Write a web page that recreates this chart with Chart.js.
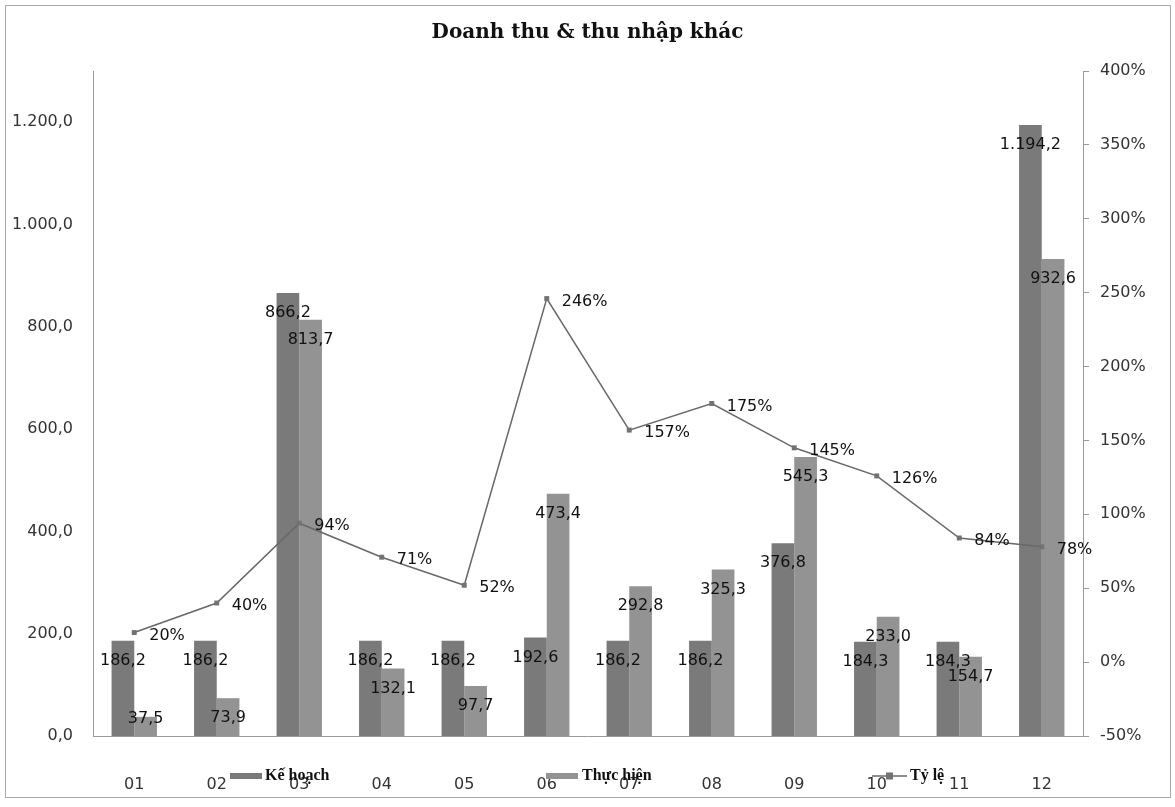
<!DOCTYPE html>
<html>
<head>
<meta charset="utf-8">
<script src="https://cdn.jsdelivr.net/npm/chart.js@4.4.1/dist/chart.umd.min.js"></script>
<style>
html,body{margin:0;padding:0;background:#fff;}
#wrap{width:1175px;height:807px;}
</style>
</head>
<body>
<div id="wrap"><canvas id="c" width="1175" height="807"></canvas></div>
<script>
// ---- data ----
const categories = ['01','02','03','04','05','06','07','08','09','10','11','12'];
const keHoach   = [186.2, 186.2, 866.2, 186.2, 186.2, 192.6, 186.2, 186.2, 376.8, 184.3, 184.3, 1194.2];
const thucHien  = [37.5, 73.9, 813.7, 132.1, 97.7, 473.4, 292.8, 325.3, 545.3, 233.0, 154.7, 932.6];
const tyLe      = [20, 40, 94, 71, 52, 246, 157, 175, 145, 126, 84, 78];
const leftTicks  = [0, 200, 400, 600, 800, 1000, 1200];
const rightTicks = [-50, 0, 50, 100, 150, 200, 250, 300, 350, 400];
const seriesNames = ['Kế hoạch', 'Thực hiện', 'Tỷ lệ'];
const chartTitle = 'Doanh thu & thu nhập khác';

function fmtVN(v, d) {
  const s = Math.abs(v).toFixed(d).split('.');
  const intPart = s[0].replace(/\B(?=(\d{3})+(?!\d))/g, '.');
  return (v < 0 ? '-' : '') + intPart + (d > 0 ? ',' + s[1] : '');
}

const C_KH = '#7a7a7a';
const C_TH = '#939393';
const C_LINE = '#686868';
const AXIS = '#9a9a9a';
const tickFont = { family: 'DejaVu Sans', size: 16 };

const bgPlugin = {
  id: 'bg',
  beforeDraw(chart) {
    const ctx = chart.ctx;
    ctx.save();
    ctx.fillStyle = '#fff';
    ctx.fillRect(0, 0, chart.width, chart.height);
    ctx.strokeStyle = '#a8a8a8';
    ctx.lineWidth = 1;
    ctx.strokeRect(5.5, 5.5, 1165, 792);
    ctx.restore();
  }
};

const labelPlugin = {
  id: 'vlabels',
  afterDatasetsDraw(chart) {
    const ctx = chart.ctx;
    ctx.save();
    ctx.font = '16px "DejaVu Sans"';
    ctx.fillStyle = '#111';
    ctx.textAlign = 'center';
    ctx.textBaseline = 'middle';
    [0, 1].forEach(di => {
      const meta = chart.getDatasetMeta(di);
      const vals = chart.data.datasets[di].data;
      meta.data.forEach((el, i) => {
        const y = Math.min(el.y + 20, el.base - 17);
        ctx.fillText(fmtVN(vals[i], 1), el.x, y);
      });
    });
    const lm = chart.getDatasetMeta(2);
    const lv = chart.data.datasets[2].data;
    ctx.textAlign = 'left';
    lm.data.forEach((el, i) => {
      ctx.fillText(lv[i] + '%', el.x + 15, el.y + 3);
    });
    ctx.restore();
  }
};

const legendPlugin = {
  id: 'customLegend',
  afterDraw(chart) {
    const ctx = chart.ctx;
    const ds = chart.data.datasets;
    const y = 776;
    ctx.save();
    ctx.font = 'bold 16px "Liberation Serif"';
    ctx.fillStyle = '#111';
    ctx.textBaseline = 'middle';
    ctx.textAlign = 'left';
    // Kế hoạch
    ctx.fillStyle = ds[0].backgroundColor;
    ctx.fillRect(230, y - 3, 32, 6);
    ctx.fillStyle = '#111';
    ctx.fillText(ds[0].label, 265, y);
    // Thực hiện
    ctx.fillStyle = ds[1].backgroundColor;
    ctx.fillRect(546, y - 3, 32, 6);
    ctx.fillStyle = '#111';
    ctx.fillText(ds[1].label, 582, y);
    // Tỷ lệ
    ctx.strokeStyle = ds[2].borderColor;
    ctx.lineWidth = 1.5;
    ctx.beginPath();
    ctx.moveTo(872, y); ctx.lineTo(907, y);
    ctx.stroke();
    ctx.fillStyle = ds[2].pointBackgroundColor;
    ctx.fillRect(886, y - 3.5, 7, 7);
    ctx.fillStyle = '#111';
    ctx.fillText(ds[2].label, 910, y);
    ctx.restore();
  }
};

new Chart(document.getElementById('c'), {
  data: {
    labels: categories,
    datasets: [
      { type: 'bar', label: seriesNames[0], data: keHoach, backgroundColor: C_KH, borderWidth: 0,
        yAxisID: 'y', order: 2, categoryPercentage: 0.55, barPercentage: 1.0 },
      { type: 'bar', label: seriesNames[1], data: thucHien, backgroundColor: C_TH, borderWidth: 0,
        yAxisID: 'y', order: 2, categoryPercentage: 0.55, barPercentage: 1.0 },
      { type: 'line', label: seriesNames[2], data: tyLe, yAxisID: 'y1', order: 1,
        borderColor: C_LINE, borderWidth: 1.5, tension: 0, fill: false,
        pointStyle: 'rect', pointRadius: 3.5, pointBackgroundColor: '#727272', pointBorderWidth: 0 }
    ]
  },
  options: {
    responsive: false,
    devicePixelRatio: 1,
    animation: false,
    layout: { padding: 0 },
    plugins: {
      legend: { display: false },
      tooltip: { enabled: false },
      title: {
        display: true, text: chartTitle, color: '#111',
        font: { family: 'DejaVu Serif', size: 20, weight: 'bold' },
        padding: { top: 21, bottom: 26 }
      }
    },
    scales: {
      x: {
        grid: { display: false },
        border: { display: true, color: AXIS, width: 1 },
        ticks: { font: tickFont, color: '#333', padding: 31, maxRotation: 0 },
        afterFit(s) { s.height = 71; }
      },
      y: {
        position: 'left', min: 0, max: 1300,
        grid: { display: false },
        border: { display: true, color: AXIS, width: 1 },
        ticks: { font: tickFont, color: '#333', padding: 12, callback: v => fmtVN(v, 1) },
        afterBuildTicks(axis) { axis.ticks = leftTicks.map(v => ({ value: v })); },
        afterFit(s) { s.width = 93; }
      },
      y1: {
        position: 'right', min: -50, max: 400,
        grid: { display: true, drawOnChartArea: false, drawTicks: true, tickLength: 6, color: AXIS },
        border: { display: true, color: AXIS, width: 1 },
        ticks: { font: tickFont, color: '#333', padding: 11, callback: v => v + '%' },
        afterBuildTicks(axis) { axis.ticks = rightTicks.map(v => ({ value: v })); },
        afterFit(s) { s.width = 92; }
      }
    }
  },
  plugins: [bgPlugin, labelPlugin, legendPlugin]
});
</script>
</body>
</html>
